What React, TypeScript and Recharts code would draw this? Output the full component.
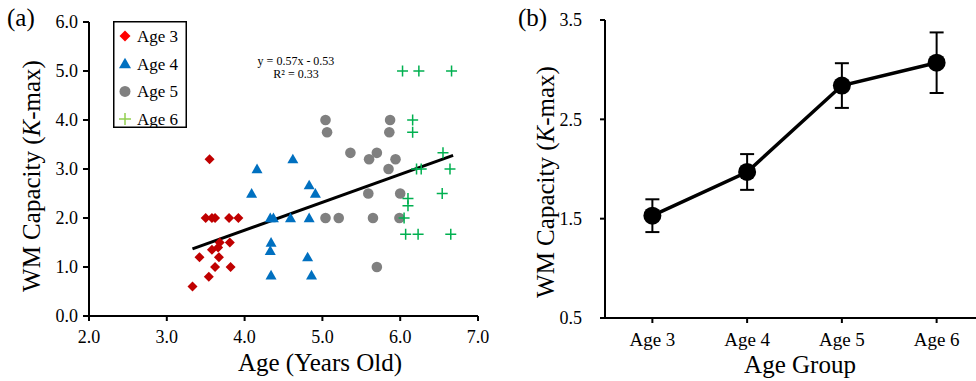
import React from 'react'
import {
  ScatterChart, Scatter, XAxis, YAxis, ReferenceLine, Legend,
  LineChart, Line, ErrorBar,
} from 'recharts'

const SERIF = '"Liberation Serif", "Times New Roman", serif'

// panel (a): one point per child, [age in years, K-max]
const age3 = [
  [3.55, 3.2], [3.5, 2.0], [3.58, 2.0], [3.62, 2.0], [3.8, 2.0], [3.92, 2.0],
  [3.68, 1.5], [3.81, 1.5], [3.58, 1.35], [3.66, 1.4], [3.42, 1.2], [3.67, 1.2],
  [3.62, 1.0], [3.82, 1.0], [3.54, 0.8], [3.33, 0.6],
]
const age4 = [
  [4.16, 3.0], [4.62, 3.2], [4.09, 2.5], [4.83, 2.67], [4.91, 2.5], [4.33, 2.0],
  [4.37, 2.0], [4.59, 2.0], [4.83, 2.0], [4.34, 1.5], [4.33, 1.33], [4.81, 1.2],
  [4.34, 0.83], [4.86, 0.83],
]
const age5 = [
  [5.04, 4.0], [5.06, 3.75], [5.87, 4.0], [5.86, 3.75], [5.36, 3.33], [5.7, 3.33],
  [5.6, 3.2], [5.94, 3.2], [5.85, 3.0], [5.59, 2.5], [6.0, 2.5], [5.04, 2.0],
  [5.21, 2.0], [5.65, 2.0], [5.99, 2.0], [5.7, 1.0],
]
const age6 = [
  [6.03, 5.0], [6.24, 5.0], [6.66, 5.0], [6.16, 4.0], [6.16, 3.75], [6.55, 3.33],
  [6.21, 3.0], [6.27, 3.0], [6.64, 3.0], [6.54, 2.5], [6.1, 2.4], [6.1, 2.25],
  [6.05, 2.0], [6.07, 1.67], [6.23, 1.67], [6.65, 1.67],
]
const ageTicks = [2, 3, 4, 5, 6, 7]
const kTicks = [0, 1, 2, 3, 4, 5, 6]

// linear fit printed on the figure
const fitSlope = 0.57
const fitIntercept = -0.53
const fitRange = [3.33, 6.68]

// panel (b): group means with error bars
const groups = ['Age 3', 'Age 4', 'Age 5', 'Age 6']
const groupMeans = [1.53, 1.97, 2.84, 3.07]
const groupErrors = [0.165, 0.18, 0.225, 0.305]
const meanTicks = [0.5, 1.5, 2.5, 3.5]

const toPoints = (rows: number[][]) => rows.map(([x, y]) => ({ x, y }))

const diamond = (fill: string, r: number) => (p: any) => (
  <path d={`M${p.cx},${p.cy - r}L${p.cx + r},${p.cy}L${p.cx},${p.cy + r}L${p.cx - r},${p.cy}Z`} fill={fill} />
)
const triangle = (fill: string, r: number) => (p: any) => (
  <path d={`M${p.cx},${p.cy - r}L${p.cx + r},${p.cy + r * 0.75}L${p.cx - r},${p.cy + r * 0.75}Z`} fill={fill} />
)
const circle = (fill: string, r: number) => (p: any) => (
  <circle cx={p.cx} cy={p.cy} r={r} fill={fill} />
)
const plus = (stroke: string, r: number) => (p: any) => (
  <path d={`M${p.cx - r},${p.cy}h${2 * r}M${p.cx},${p.cy - r}v${2 * r}`} stroke={stroke} strokeWidth={1.5} fill="none" />
)

const series = [
  { name: 'Age 3', rows: age3, shape: diamond('#c00000', 5), key: diamond('#ff0000', 5.5) },
  { name: 'Age 4', rows: age4, shape: triangle('#0070c0', 5.5), key: triangle('#0070c0', 6) },
  { name: 'Age 5', rows: age5, shape: circle('#808080', 5.3), key: circle('#808080', 5.5) },
  { name: 'Age 6', rows: age6, shape: plus('#00b050', 5.5), key: plus('#92d050', 6) },
]

const LegendBox = () => (
  <svg width={74} height={107} style={{ display: 'block' }}>
    <rect x={0.75} y={0.75} width={72.5} height={105.5} fill="#fff" stroke="#000" strokeWidth={1.5} />
    {series.map((s, i) => {
      const cy = 15 + i * 27.7
      return (
        <g key={s.name}>
          {s.key({ cx: 12, cy })}
          <text x={24} y={cy} dy="0.35em" fontFamily={SERIF} fontSize={17} fill="#000">{s.name}</text>
        </g>
      )
    })}
  </svg>
)

const axisStyle = { stroke: '#000', strokeWidth: 2 }
const tickFont = { fill: '#000', fontSize: 18, fontFamily: SERIF }

const Title = ({ x, y, rotate, children }: any) => (
  <text
    transform={`translate(${x},${y})${rotate ? ' rotate(-90)' : ''}`}
    textAnchor="middle" dy="0.35em" fontFamily={SERIF} fontSize={25} fill="#000"
  >
    {children}
  </text>
)

function PanelA() {
  return (
    <ScatterChart width={490} height={381} margin={{ top: 22, right: 12, bottom: 20, left: 0 }}>
      <XAxis
        type="number" dataKey="x" domain={[2, 7]} ticks={ageTicks} height={45}
        tickFormatter={(v: number) => v.toFixed(1)}
        axisLine={axisStyle} tickLine={axisStyle} tickSize={5} tickMargin={9} tick={tickFont}
        label={{ content: () => <Title x={320} y={362}>Age (Years Old)</Title> }}
      />
      <YAxis
        type="number" dataKey="y" domain={[0, 6]} ticks={kTicks} width={89}
        tickFormatter={(v: number) => v.toFixed(1)}
        axisLine={axisStyle} tickLine={axisStyle} tickSize={6} tickMargin={5} tick={tickFont}
        label={{ content: () => <Title x={31} y={176} rotate>WM Capacity (<tspan fontStyle="italic">K</tspan>-max)</Title> }}
      />
      {series.map(s => (
        <Scatter key={s.name} name={s.name} data={toPoints(s.rows)} shape={s.shape} isAnimationActive={false} />
      ))}
      <ReferenceLine
        segment={fitRange.map(x => ({ x, y: fitSlope * x + fitIntercept }))}
        stroke="#000" strokeWidth={3} ifOverflow="visible"
      />
      <Legend
        layout="vertical" align="center" verticalAlign="middle"
        wrapperStyle={{ left: 113, top: 21, width: 74, height: 107 }}
        content={() => <LegendBox />}
      />
    </ScatterChart>
  )
}

function PanelB() {
  const data = groups.map((group, i) => ({ group, mean: groupMeans[i], err: groupErrors[i] }))
  return (
    <LineChart width={494} height={381} data={data} margin={{ top: 20, right: 0, bottom: 20, left: 0 }}>
      <XAxis
        dataKey="group" scale="band" height={43}
        axisLine={axisStyle} tickLine={axisStyle} tickSize={5} tickMargin={10}
        tick={{ ...tickFont, fontSize: 19 }}
        label={{ content: () => <Title x={310} y={364}>Age Group</Title> }}
      />
      <YAxis
        type="number" domain={[0.5, 3.5]} ticks={meanTicks} width={115}
        tickFormatter={(v: number) => v.toFixed(1)}
        axisLine={axisStyle} tickLine={axisStyle} tickSize={5} tickMargin={18} tick={tickFont}
        label={{ content: () => <Title x={55} y={182} rotate>WM Capacity (<tspan fontStyle="italic">K</tspan>-max)</Title> }}
      />
      <Line
        dataKey="mean" stroke="#000" strokeWidth={3.5}
        dot={{ r: 9, fill: '#000', stroke: '#000', strokeWidth: 0 }}
        isAnimationActive={false}
      >
        <ErrorBar dataKey="err" width={7} stroke="#000" strokeWidth={2} />
      </Line>
    </LineChart>
  )
}

const tag = (left: number): React.CSSProperties => ({
  position: 'absolute', left, top: 3, fontSize: 25, lineHeight: '30px', color: '#000',
})

export default function App() {
  return (
    <div style={{
      position: 'absolute', left: 0, top: 0, width: 976, height: 381,
      overflow: 'hidden', background: '#fff', fontFamily: SERIF,
    }}>
      <div style={{ position: 'absolute', left: 0, top: 0 }}><PanelA /></div>
      <div style={{ position: 'absolute', left: 490, top: 0 }}><PanelB /></div>
      <div style={tag(7)}>(a)</div>
      <div style={tag(518)}>(b)</div>
      <div style={{
        position: 'absolute', left: 236, top: 55, width: 120, textAlign: 'center',
        fontSize: 12, lineHeight: '13px', color: '#000',
      }}>
        y = 0.57x - 0.53<br />R² = 0.33
      </div>
    </div>
  )
}
